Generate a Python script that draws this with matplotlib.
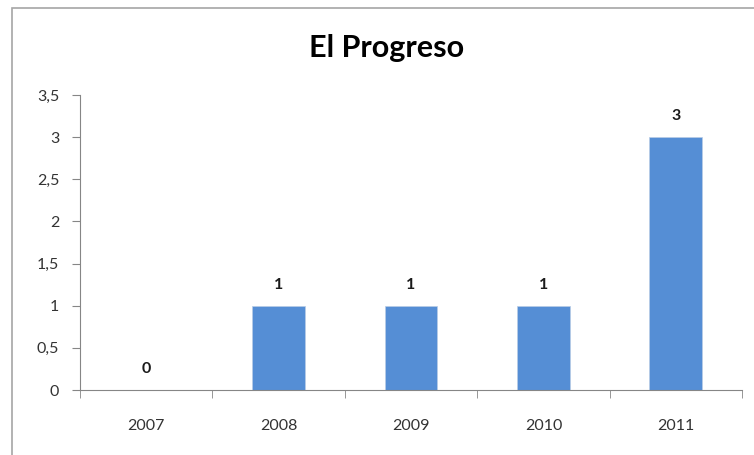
import matplotlib.pyplot as plt
from matplotlib.patches import Rectangle
from matplotlib.ticker import FixedLocator

# Years and counts for El Progreso
years = ['2007', '2008', '2009', '2010', '2011']
counts = [0, 1, 1, 1, 3]
y_ticks = [0, 0.5, 1, 1.5, 2, 2.5, 3, 3.5]

plt.rcParams['font.family'] = ['Lato', 'DejaVu Sans']

fig = plt.figure(figsize=(7.54, 4.55), dpi=100)
ax = fig.add_axes([80 / 754, 1 - 390 / 455, 662 / 754, 295 / 455])

# chart frame, only the top and left edges are visible
fig.patches.append(Rectangle((12 / 754, -0.2), 1.2, 1 - 8 / 455 + 0.2,
                             transform=fig.transFigure, fill=False,
                             edgecolor='#a6a6a6', linewidth=1.2))

x = list(range(len(years)))
bars = ax.bar(x, counts, width=0.4, color='#558ed5', edgecolor='#b9cde5', linewidth=0.5)

for xi, v in zip(x, counts):
    ax.annotate(str(v), (xi, v), xytext=(0, 10), textcoords='offset points',
                ha='center', va='bottom', fontsize=11.5, fontweight='bold', color='#1a1a1a')

ax.set_xlim(-0.5, len(years) - 0.5)
ax.set_ylim(0, 3.5)
ax.set_yticks(y_ticks)
ax.set_yticklabels([f'{t:g}'.replace('.', ',') for t in y_ticks])
ax.set_xticks(x)
ax.set_xticklabels(years)
ax.xaxis.set_minor_locator(FixedLocator([i - 0.5 for i in range(len(years) + 1)]))

for side in ['top', 'right']:
    ax.spines[side].set_visible(False)
for side in ['left', 'bottom']:
    ax.spines[side].set_color('#868686')

ax.tick_params(axis='x', which='major', length=0, pad=21, labelsize=11.5, colors='#333333')
ax.tick_params(axis='x', which='minor', length=6, color='#868686', direction='out')
ax.tick_params(axis='y', length=6, color='#868686', direction='out', pad=9,
               labelsize=11.5, labelcolor='#333333')

fig.text(387 / 754, 1 - 48 / 455, 'El Progreso', ha='center', va='center',
         fontsize=22, fontweight='bold', color='#000000')

fig.savefig('out.png', dpi=100)
